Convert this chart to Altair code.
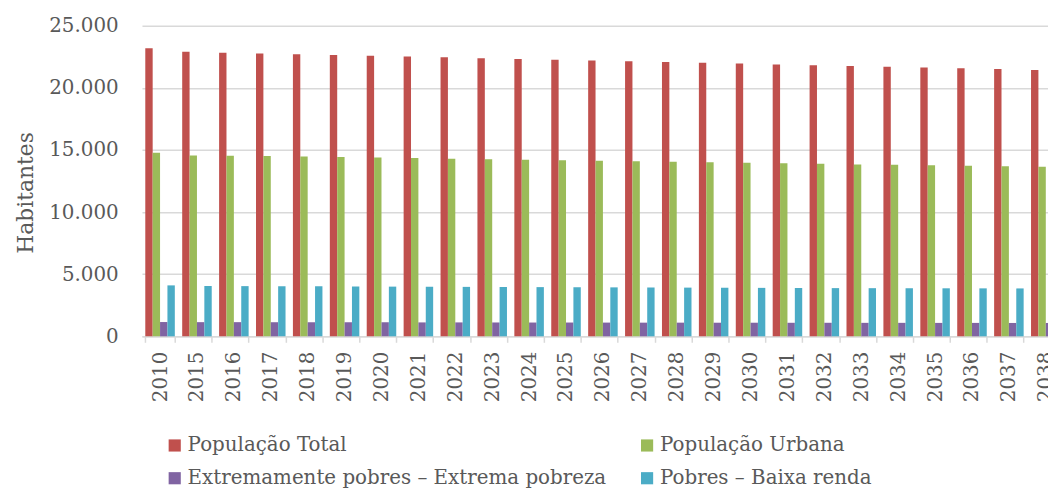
import altair as alt
import pandas as pd

years = ["2010", "2015", "2016", "2017", "2018", "2019", "2020", "2021", "2022",
         "2023", "2024", "2025", "2026", "2027", "2028", "2029", "2030", "2031",
         "2032", "2033", "2034", "2035", "2036", "2037", "2038"]

series = ["População Total", "População Urbana",
          "Extremamente pobres – Extrema pobreza", "Pobres – Baixa renda"]
colors = ["#C0504D", "#9BBB59", "#8064A2", "#4BACC6"]

total = [23190, 22900, 22820, 22760, 22710, 22650, 22590, 22520, 22460, 22390,
         22330, 22270, 22200, 22140, 22080, 22010, 21950, 21880, 21810, 21750,
         21700, 21640, 21580, 21510, 21430]
urbana = [14780, 14560, 14540, 14510, 14470, 14430, 14390, 14350, 14300, 14260,
          14220, 14180, 14140, 14090, 14050, 14010, 13970, 13920, 13880, 13830,
          13800, 13770, 13720, 13690, 13640]
extrema = [1150, 1140, 1140, 1135, 1130, 1130, 1125, 1120, 1120, 1115,
           1110, 1110, 1105, 1100, 1100, 1095, 1095, 1090, 1090, 1085,
           1085, 1080, 1080, 1075, 1075]
pobres = [4100, 4050, 4040, 4030, 4020, 4010, 4000, 3990, 3980, 3970,
          3960, 3950, 3940, 3930, 3920, 3910, 3900, 3890, 3880, 3875,
          3870, 3865, 3860, 3855, 3850]

y_ticks = [0, 5000, 10000, 15000, 20000, 25000]

rows = []
for s, vals in zip(series, [total, urbana, extrema, pobres]):
    for yr, v in zip(years, vals):
        rows.append({"ano": yr, "serie": s, "valor": v})
df = pd.DataFrame(rows)

text_color = "#595959"
grid_color = "#d9d9d9"

chart = alt.Chart(df).mark_bar().encode(
    x=alt.X(
        "ano:N", sort=years,
        scale=alt.Scale(range=[0, 929], paddingInner=0.2, paddingOuter=0.09),
        axis=alt.Axis(
            title=None, labelAngle=-90, tickBand="extent", grid=False,
            domainColor=grid_color, domainWidth=1.5, tickColor=grid_color,
            tickWidth=1.5, tickSize=6, labelPadding=9, labelFontSize=20,
            labelColor=text_color,
        ),
    ),
    xOffset=alt.XOffset("serie:N", sort=series),
    y=alt.Y(
        "valor:Q",
        scale=alt.Scale(domain=[0, 25000]),
        axis=alt.Axis(
            values=y_ticks, title="Habitantes", domain=False, ticks=False,
            tickSize=0, labelPadding=24, labelFontSize=20, labelColor=text_color,
            labelExpr="replace(format(datum.value, ','), ',', '.')",
            gridColor=grid_color, gridWidth=1.5,
            titleFontSize=22, titleFontWeight="normal", titleColor=text_color,
            titleAngle=-90, titleAlign="center", titleBaseline="alphabetic",
            titleX=-110, titleY=168,
        ),
    ),
    color=alt.Color(
        "serie:N", sort=series,
        scale=alt.Scale(domain=series, range=colors),
        legend=alt.Legend(
            title=None, orient="none", legendX=23, legendY=413, columns=2,
            direction="horizontal",
            symbolType="square", symbolSize=150, symbolStrokeWidth=0,
            labelFontSize=20, labelColor=text_color, labelOffset=3,
            labelLimit=600, columnPadding=30, rowPadding=13, padding=0,
        ),
    ),
).properties(
    width=913, height=313, autosize="none",
    padding={"left": 135, "top": 16, "right": 0, "bottom": 151},
).configure(
    font="DejaVu Serif",
).configure_view(
    stroke=None,
)

chart.save("out.html", embed_options={"renderer": "svg", "actions": False})
